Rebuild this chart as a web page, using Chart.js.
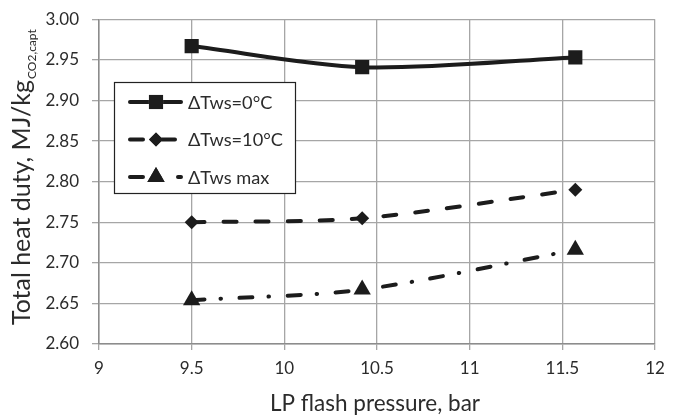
<!DOCTYPE html>
<html>
<head>
<meta charset="utf-8">
<script src="https://cdn.jsdelivr.net/npm/chart.js@4/dist/chart.umd.min.js"></script>
<style>
html,body{margin:0;padding:0;background:#fff;}
#wrap{width:680px;height:415px;position:relative;}
</style>
</head>
<body>
<div id="wrap"><canvas id="c" width="680" height="415"></canvas></div>
<script>
// ---- data ----
const pressures = [9.5, 10.42, 11.57];
const duty0 = [2.967, 2.941, 2.953];
const duty10 = [2.750, 2.755, 2.790];
const dutyMax = [2.654, 2.667, 2.716];
const seriesLabels = ['ΔTws=0°C', 'ΔTws=10°C', 'ΔTws max'];
const xTitle = 'LP flash pressure, bar';
const yTitleMain = 'Total heat duty, MJ/kg';
const yTitleSub = 'CO2,capt';
const xMin = 9, xMax = 12, xStep = 0.5;
const yMin = 2.60, yMax = 3.00, yStep = 0.05;

const FONT = 'Lato, "Open Sans", sans-serif';
const TXT = '#2b2b2b';
const LINE = '#1c1c1c';
const GRID = '#a6a6a6';

function pts(xs, ys){ return xs.map((x,i)=>({x:x, y:ys[i]})); }

const styles = [
  {dash: [], style: 'rect', r: 10, data: duty0},
  {dash: [13, 19], style: 'rectRot', r: 7, data: duty10},
  {dash: [13, 16, 0.5, 18.5], style: 'triangle', r: 10, data: dutyMax}
];

const datasets = styles.map((s, i) => ({
  label: seriesLabels[i],
  data: pts(pressures, s.data),
  borderColor: LINE,
  backgroundColor: LINE,
  borderWidth: 4,
  borderDash: s.dash,
  borderCapStyle: 'round',
  tension: 0.3,
  pointStyle: s.style,
  pointRadius: s.r,
  pointHoverRadius: s.r,
  pointBorderWidth: 0,
  pointBackgroundColor: LINE,
  showLine: true,
  fill: false
}));

function fitSize(ctx, text, target, base) {
  ctx.font = base + 'px ' + FONT;
  const w = ctx.measureText(text).width;
  return base * target / w;
}

const overlay = {
  id: 'overlay',
  afterDraw(chart) {
    const ctx = chart.ctx;
    ctx.save();
    // legend box
    const bx = 114.5, by = 82.5, bw = 181, bh = 111;
    ctx.fillStyle = '#ffffff';
    ctx.fillRect(bx, by, bw, bh);
    ctx.strokeStyle = '#222';
    ctx.lineWidth = 1.2;
    ctx.strokeRect(bx, by, bw, bh);
    const rows = [102, 139.5, 177];
    const legSize = fitSize(ctx, seriesLabels[1], 95, 17);
    chart.data.datasets.forEach((ds, i) => {
      const y = rows[i];
      ctx.save();
      ctx.strokeStyle = ds.borderColor;
      ctx.lineWidth = ds.borderWidth;
      ctx.lineCap = 'round';
      ctx.setLineDash(ds.borderDash || []);
      ctx.beginPath();
      ctx.moveTo(130, y);
      ctx.lineTo(181, y);
      ctx.stroke();
      ctx.restore();
      Chart.helpers.drawPoint(ctx, {
        pointStyle: ds.pointStyle,
        radius: ds.pointRadius,
        borderWidth: 0,
        rotation: 0
      }, 156, y);
      ctx.fillStyle = ds.pointBackgroundColor;
      ctx.fill();
      ctx.fillStyle = TXT;
      ctx.font = legSize.toFixed(2) + 'px ' + FONT;
      ctx.textBaseline = 'middle';
      ctx.textAlign = 'left';
      ctx.fillText(ds.label, 188, y + 1);
    });
    // x title
    const xs = fitSize(ctx, xTitle, 210, 20);
    ctx.fillStyle = TXT;
    ctx.font = xs.toFixed(2) + 'px ' + FONT;
    ctx.textAlign = 'left';
    ctx.textBaseline = 'alphabetic';
    ctx.fillText(xTitle, 270, 411);
    // y title (rotated, with subscript)
    const ys = fitSize(ctx, yTitleMain, 245, 20);
    ctx.translate(30, 325);
    ctx.rotate(-Math.PI / 2);
    ctx.textAlign = 'left';
    ctx.font = ys.toFixed(2) + 'px ' + FONT;
    ctx.fillText(yTitleMain, 0, 0);
    const w = ctx.measureText(yTitleMain).width;
    ctx.font = '12px ' + FONT;
    ctx.fillText(yTitleSub, w + 1, 6);
    ctx.restore();
  }
};

new Chart(document.getElementById('c'), {
  type: 'line',
  data: { datasets: datasets },
  options: {
    responsive: false,
    animation: false,
    devicePixelRatio: 1,
    layout: { padding: { top: 15, right: 25, left: 0, bottom: 0 } },
    plugins: {
      legend: { display: false },
      tooltip: { enabled: false }
    },
    scales: {
      x: {
        type: 'linear',
        min: xMin, max: xMax,
        ticks: {
          stepSize: xStep,
          color: TXT,
          font: { family: FONT, size: 17 },
          padding: 8,
          maxRotation: 0,
          callback: v => String(v)
        },
        grid: { color: GRID, lineWidth: 1.3, tickLength: 6, tickColor: GRID },
        border: { color: '#8c8c8c', width: 1.5 },
        afterFit: s => { s.height = 71; }
      },
      y: {
        min: yMin, max: yMax,
        ticks: {
          stepSize: yStep,
          color: TXT,
          font: { family: FONT, size: 17, lineHeight: 0.74 },
          padding: 13,
          callback: v => Number(v).toFixed(2)
        },
        grid: { color: GRID, lineWidth: 1.3, tickLength: 7, tickColor: GRID },
        border: { color: '#8c8c8c', width: 1.5 },
        afterFit: s => { s.width = 99; }
      }
    }
  },
  plugins: [overlay]
});
</script>
</body>
</html>
